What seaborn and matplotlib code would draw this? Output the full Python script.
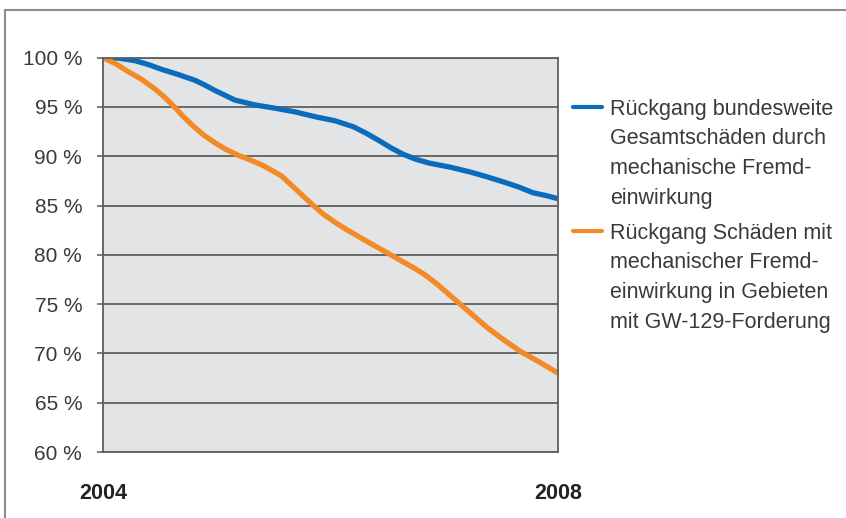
import matplotlib
matplotlib.use("Agg")
import matplotlib.pyplot as plt
from matplotlib.lines import Line2D
import seaborn as sns
import pandas as pd

# ---- data ----
blue_x = [2004.00, 2004.14, 2004.28, 2004.40, 2004.52, 2004.66, 2004.81, 2004.90, 2004.98,
          2005.07, 2005.16, 2005.34, 2005.50, 2005.69, 2005.87, 2006.04, 2006.20, 2006.32,
          2006.44, 2006.54, 2006.64, 2006.75, 2006.87, 2007.05, 2007.23, 2007.38, 2007.52,
          2007.65, 2007.78, 2007.90, 2008.00]
blue_y = [100.0, 99.95, 99.7, 99.3, 98.8, 98.3, 97.7, 97.2, 96.7,
          96.2, 95.7, 95.2, 94.9, 94.5, 94.0, 93.6, 93.0, 92.3,
          91.5, 90.8, 90.2, 89.7, 89.3, 88.9, 88.4, 87.9, 87.4,
          86.9, 86.3, 86.0, 85.7]
orange_x = [2004.00, 2004.11, 2004.22, 2004.34, 2004.46, 2004.54, 2004.62, 2004.70, 2004.78,
            2004.88, 2004.98, 2005.08, 2005.19, 2005.30, 2005.40, 2005.48, 2005.57, 2005.70,
            2005.84, 2005.94, 2006.04, 2006.15, 2006.30, 2006.50, 2006.62, 2006.73, 2006.84,
            2006.94, 2007.04, 2007.14, 2007.26, 2007.38, 2007.52, 2007.67, 2007.84, 2008.00]
orange_y = [100.0, 99.4, 98.6, 97.8, 96.8, 96.0, 95.1, 94.1, 93.2,
            92.2, 91.4, 90.7, 90.1, 89.6, 89.1, 88.6, 88.0, 86.6,
            85.1, 84.1, 83.3, 82.5, 81.5, 80.2, 79.4, 78.7, 77.9,
            77.0, 76.0, 75.0, 73.8, 72.6, 71.4, 70.2, 69.1, 68.0]
series_names = ["Rückgang bundesweite Gesamtschäden durch mechanische Fremdeinwirkung",
                "Rückgang Schäden mit mechanischer Fremdeinwirkung in Gebieten mit GW-129-Forderung"]
legend_lines = [["Rückgang bundesweite", "Gesamtschäden durch", "mechanische Fremd-", "einwirkung"],
                ["Rückgang Schäden mit", "mechanischer Fremd-", "einwirkung in Gebieten", "mit GW-129-Forderung"]]
y_ticks = [60, 65, 70, 75, 80, 85, 90, 95, 100]
y_tick_labels = [f"{v} %" for v in y_ticks]
x_ticks = [2004, 2008]
x_tick_labels = ["2004", "2008"]
colors = ["#0b6cbd", "#f28a25"]

df = pd.concat([
    pd.DataFrame({"Jahr": blue_x, "Wert": blue_y, "Serie": series_names[0]}),
    pd.DataFrame({"Jahr": orange_x, "Wert": orange_y, "Serie": series_names[1]}),
])

sns.set_theme(style="white")
plt.rcParams["font.family"] = ["Liberation Sans", "DejaVu Sans"]

W, H = 846, 518
fig = plt.figure(figsize=(W / 100, H / 100), dpi=100)
ax = fig.add_axes([103 / W, 1 - 452 / H, (558 - 103) / W, (452 - 57.7) / H])
ax.set_facecolor("#e3e4e6")

sns.lineplot(data=df, x="Jahr", y="Wert", hue="Serie", palette=colors,
             linewidth=3.8, legend=False, ax=ax, sort=False,
             solid_joinstyle="round", solid_capstyle="butt")

ax.set_xlim(2004, 2008)
ax.set_ylim(60, 100)
ax.set_yticks(y_ticks)
ax.set_yticklabels(y_tick_labels, fontsize=15, color="#3a3a3a")
ax.set_xticks(x_ticks)
ax.set_xticklabels(x_tick_labels, fontsize=15.5, fontweight="bold", color="#222222")
ax.tick_params(axis="y", length=4, width=1.2, color="#666666", pad=11, left=True)
ax.tick_params(axis="x", length=0, pad=22)
ax.yaxis.grid(True, color="#5e5e5e", linewidth=1.3)
ax.xaxis.grid(False)
ax.set_axisbelow(True)
ax.set_xlabel("")
ax.set_ylabel("")
for s in ax.spines.values():
    s.set_color("#5e5e5e")
    s.set_linewidth(1.3)

# legend (manual, handle aligned to first line)
entry_tops = [107, 231]
for i, lines in enumerate(legend_lines):
    y0 = entry_tops[i]
    fig.add_artist(Line2D([573 / W, 602 / W], [1 - y0 / H, 1 - y0 / H],
                          color=colors[i], linewidth=3.0))
    for j, t in enumerate(lines):
        yy = y0 + j * 29.7
        fig.text(610 / W, 1 - (yy + 7.5) / H, t, fontsize=15.5, color="#3a3a3a",
                 ha="left", va="baseline")

# outer frame (top and left visible)
fig.add_artist(Line2D([5 / W, 1], [1 - 10 / H, 1 - 10 / H], color="#8c8c8c", linewidth=1.5))
fig.add_artist(Line2D([5 / W, 5 / W], [0, 1 - 10 / H], color="#8c8c8c", linewidth=1.5))

fig.savefig("out.png", dpi=100)
